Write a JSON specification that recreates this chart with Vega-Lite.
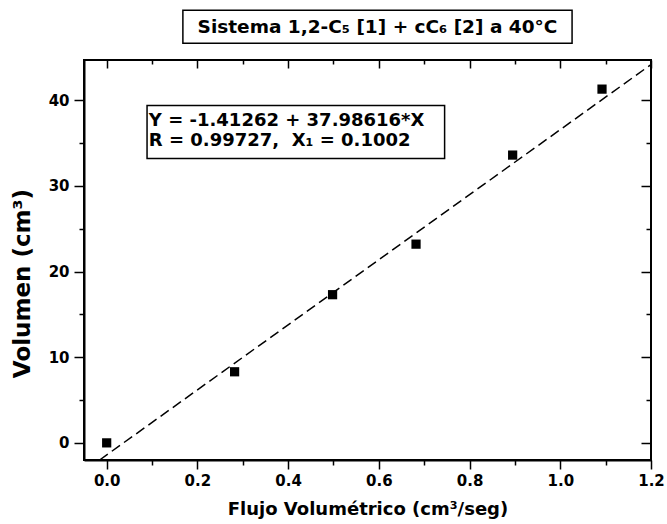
{
  "$schema": "https://vega.github.io/schema/vega-lite/v6.json",
  "width": 567,
  "height": 400,
  "autosize": "none",
  "padding": {"left": 84, "top": 60, "right": 16, "bottom": 64},
  "background": "white",
  "config": {
    "view": {"stroke": "black", "strokeWidth": 2},
    "font": "DejaVu Sans",
    "axis": {
      "domainColor": "black", "domainWidth": 2,
      "tickColor": "black", "tickWidth": 1.5, "ticks": true,
      "labelFont": "DejaVu Sans", "labelFontWeight": "bold", "labelFontSize": 15, "labelColor": "black",
      "titleFont": "DejaVu Sans", "titleFontWeight": "bold", "titleFontSize": 18, "titleColor": "black",
      "grid": false, "zindex": 1
    }
  },
  "datasets": {
    "pts": [
      {"flujo": 0.0, "volumen": 0.0},
      {"flujo": 0.282, "volumen": 8.3},
      {"flujo": 0.498, "volumen": 17.3},
      {"flujo": 0.682, "volumen": 23.2},
      {"flujo": 0.895, "volumen": 33.6},
      {"flujo": 1.092, "volumen": 41.3}
    ],
    "fit": [
      {"flujo": -0.0155, "volumen": -2.0},
      {"flujo": 1.2, "volumen": 44.17}
    ]
  },
  "resolve": {"axis": {"x": "independent", "y": "independent"}},
  "layer": [
    {
      "data": {"name": "fit"},
      "mark": {"type": "line", "color": "black", "strokeWidth": 1.5, "strokeDash": [10, 5]},
      "encoding": {
        "x": {"field": "flujo", "type": "quantitative",
          "scale": {"domain": [-0.05, 1.2], "nice": false, "zero": false},
          "axis": {"orient": "bottom", "title": "Flujo Volumétrico (cm³/seg)",
            "values": [0, 0.2, 0.4, 0.6, 0.8, 1.0, 1.2], "format": ".1f",
            "tickSize": 9, "labelPadding": 4, "titlePadding": 12, "labelFlush": false}},
        "y": {"field": "volumen", "type": "quantitative",
          "scale": {"domain": [-2, 44.7], "nice": false, "zero": false},
          "axis": {"orient": "left", "title": "Volumen (cm³)", "titleFontSize": 23,
            "titleAngle": -90, "titleX": -62, "titleY": 223, "titleAlign": "center", "titleBaseline": "middle",
            "values": [0, 10, 20, 30, 40],
            "tickSize": 10, "labelPadding": 5}}
      }
    },
    {
      "data": {"name": "pts"},
      "mark": {"type": "square", "color": "black", "filled": true, "opacity": 1, "size": 85},
      "encoding": {
        "x": {"field": "flujo", "type": "quantitative",
          "axis": {"orient": "top", "title": null, "labels": true, "labelExpr": "''", "domain": false, "ticks": true, "zindex": 2,
            "values": [0, 0.2, 0.4, 0.6, 0.8, 1.0, 1.2], "tickSize": 8, "offset": -8}},
        "y": {"field": "volumen", "type": "quantitative",
          "axis": {"orient": "right", "title": null, "labels": true, "labelExpr": "''", "domain": false, "ticks": true, "zindex": 2,
            "values": [0, 10, 20, 30, 40], "tickSize": 10, "offset": -10}}
      }
    },
    {
      "data": {"values": [{}]},
      "mark": {"type": "rect", "fill": "white", "stroke": "black", "strokeWidth": 1.5},
      "encoding": {
        "x": {"datum": 0.089, "type": "quantitative",
          "axis": {"orient": "bottom", "title": null, "labels": true, "labelExpr": "''", "domain": false, "ticks": true,
            "values": [0.1, 0.3, 0.5, 0.7, 0.9, 1.1], "tickSize": 5}},
        "x2": {"datum": 0.745},
        "y": {"datum": 39.4, "type": "quantitative",
          "axis": {"orient": "left", "title": null, "labels": true, "labelExpr": "''", "domain": false, "ticks": true,
            "values": [5, 15, 25, 35], "tickSize": 5}},
        "y2": {"datum": 33.2}
      }
    },
    {
      "data": {"values": [{}]},
      "mark": {"type": "text", "align": "left", "baseline": "middle", "font": "DejaVu Sans", "fontWeight": "bold", "fontSize": 18, "color": "black", "text": "Y = -1.41262 + 37.98616*X"},
      "encoding": {
        "x": {"datum": 0.093, "type": "quantitative",
          "axis": {"orient": "top", "title": null, "labels": true, "labelExpr": "''", "domain": false, "ticks": true, "zindex": 2,
            "values": [0.1, 0.3, 0.5, 0.7, 0.9, 1.1], "tickSize": 4, "offset": -4}},
        "y": {"datum": 37.55, "type": "quantitative",
          "axis": {"orient": "right", "title": null, "labels": true, "labelExpr": "''", "domain": false, "ticks": true, "zindex": 2,
            "values": [5, 15, 25, 35], "tickSize": 5, "offset": -5}}
      }
    },
    {
      "data": {"values": [{}]},
      "mark": {"type": "text", "align": "left", "baseline": "middle", "font": "DejaVu Sans", "fontWeight": "bold", "fontSize": 18, "color": "black", "text": "R = 0.99727,\u00a0 X₁ = 0.1002"},
      "encoding": {
        "x": {"datum": 0.093, "type": "quantitative", "axis": null},
        "y": {"datum": 35.3, "type": "quantitative", "axis": null}
      }
    },
    {
      "data": {"values": [{}]},
      "mark": {"type": "rect", "fill": "white", "stroke": "black", "strokeWidth": 1.5, "clip": false},
      "encoding": {
        "x": {"datum": 0.168, "type": "quantitative", "axis": null},
        "x2": {"datum": 1.026},
        "y": {"datum": 50.5, "type": "quantitative", "axis": null},
        "y2": {"datum": 46.65}
      }
    },
    {
      "data": {"values": [{}]},
      "mark": {"type": "text", "align": "center", "baseline": "middle", "font": "DejaVu Sans", "fontWeight": "bold", "fontSize": 18.5, "color": "black", "clip": false, "text": "Sistema 1,2-C₅ [1] + cC₆ [2] a 40°C"},
      "encoding": {
        "x": {"datum": 0.597, "type": "quantitative", "axis": null},
        "y": {"datum": 48.6, "type": "quantitative", "axis": null}
      }
    }
  ]
}
